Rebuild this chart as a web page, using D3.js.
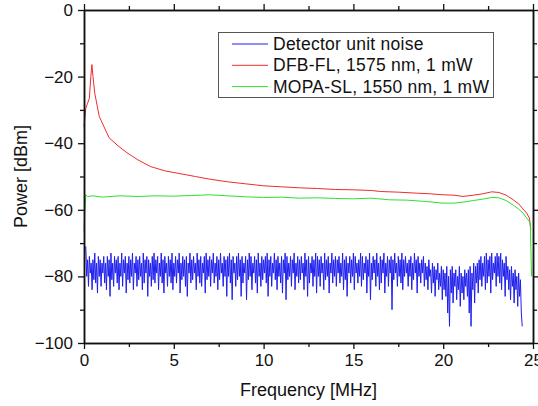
<!DOCTYPE html>
<html>
<head>
<meta charset="utf-8">
<script src="https://cdn.jsdelivr.net/npm/d3@7"></script>
<style>
  body { margin: 0; background: #fff; }
  svg { display: block; font-family: Arial, 'Liberation Sans', sans-serif; }
</style>
</head>
<body>
<div id="chart"></div>
<script>
// detector noise, 0.05 MHz steps from 0.1 to 24.4 MHz
const noiseStart = 0.1
const noiseStep = 0.05
const noise = [
  -71, -80, -75, -83, -74, -79, -76, -84, -75, -81, -73, -82, -76, -85, -74, -80, -75, -83, -76,
  -79, -74, -82, -76, -84, -74, -80, -75, -86, -73, -81, -76, -83, -74, -79, -75, -82, -74, -84, -76,
  -80, -73, -83, -75, -79, -74, -85, -76, -81, -74, -82, -75, -80, -73, -84, -76, -79, -74, -83, -75,
  -81, -74, -80, -76, -84, -73, -82, -75, -79, -74, -86, -75, -80, -76, -83, -74, -81, -73, -82, -75,
  -79, -74, -84, -76, -80, -73, -82, -75, -85, -74, -79, -76, -83, -74, -80, -75, -82, -73, -84, -76,
  -80, -74, -82, -75, -79, -73, -85, -76, -81, -74, -80, -75, -83, -74, -86, -76, -79, -73, -82, -75,
  -81, -74, -79, -76, -84, -73, -80, -75, -82, -74, -83, -76, -79, -74, -85, -73, -81, -75, -80, -74,
  -83, -75, -79, -73, -82, -76, -80, -74, -84, -75, -81, -73, -79, -76, -83, -74, -80, -75, -86, -74,
  -80, -73, -82, -75, -87, -74, -79, -76, -83, -74, -81, -73, -80, -75, -86, -74, -82, -76, -79, -74,
  -87, -75, -81, -73, -80, -74, -84, -76, -79, -74, -82, -75, -85, -73, -80, -76, -83, -74, -81, -75,
  -79, -74, -82, -73, -86, -75, -80, -74, -83, -76, -79, -73, -81, -75, -84, -74, -80, -76, -82, -74,
  -85, -75, -79, -73, -87, -74, -81, -76, -80, -74, -83, -75, -79, -73, -84, -76, -80, -74, -82, -75,
  -81, -74, -79, -76, -84, -73, -80, -75, -86, -74, -82, -76, -79, -74, -83, -75, -80, -73, -85, -74,
  -80, -75, -83, -74, -79, -76, -84, -73, -81, -75, -80, -74, -85, -76, -79, -73, -82, -75, -80, -74,
  -83, -75, -79, -74, -82, -76, -80, -73, -84, -75, -81, -74, -86, -76, -79, -74, -82, -75, -80, -73,
  -84, -74, -79, -76, -82, -75, -80, -73, -83, -74, -81, -76, -79, -74, -85, -75, -80, -73, -87, -76,
  -81, -74, -79, -75, -83, -73, -80, -76, -84, -74, -82, -75, -79, -73, -85, -76, -80, -74, -83, -75,
  -79, -74, -90, -75, -81, -73, -79, -76, -83, -74, -80, -75, -82, -73, -84, -75, -80, -74, -79, -76,
  -83, -75, -80, -74, -84, -76, -81, -73, -79, -75, -85, -74, -80, -76, -82, -75, -79, -74, -83, -76,
  -81, -77, -84, -75, -80, -78, -85, -76, -82, -77, -86, -78, -81, -76, -84, -79, -83, -77, -87, -78,
  -84, -79, -86, -77, -91, -80, -95, -78, -85, -77, -88, -79, -83, -78, -87, -80, -84, -77, -89, -79,
  -85, -80, -87, -78, -83, -79, -86, -78, -91, -77, -95, -79, -84, -76, -88, -77, -82, -76, -85, -75,
  -81, -74, -83, -76, -80, -74, -84, -73, -82, -75, -80, -74, -85, -73, -81, -76, -79, -74, -83, -73,
  -80, -74, -82, -73, -84, -75, -80, -76, -86, -74, -81, -77, -84, -78, -87, -77, -83, -79, -88, -78,
  -84, -80, -89, -79, -86, -81, -91, -95
]

const dfbFreq = [0, 0.1, 0.2, 0.3, 0.38, 0.44, 0.5, 0.6, 0.85, 1.4, 1.9, 2.4, 3, 3.7, 4.5, 5.4, 6.2, 7, 8, 9, 10, 11, 12, 13, 14, 15, 16, 16.5, 17.5, 18.5, 19.3, 20, 20.6, 21.1, 21.7, 22.2, 22.7, 23.1, 23.5, 23.9, 24.2, 24.45, 24.65, 24.8, 24.88]
const dfbPower = [-35, -29.5, -28, -26.5, -20, -16.4, -20, -25, -32, -38.4, -40.8, -42.9, -45, -47, -48.3, -49.2, -50, -50.8, -51.6, -52.2, -52.8, -53.1, -53.4, -53.6, -53.9, -54, -54.2, -54.5, -54.7, -55, -55.2, -55.5, -55.6, -56, -55.6, -55.2, -54.6, -54.8, -55.6, -57, -58.2, -59.8, -61, -62.5, -66]

const mopaFreq = [0, 0.05, 0.1, 0.2, 0.5, 1, 1.5, 2, 3, 4, 5, 6, 7, 8, 9, 10, 11, 12, 13, 14, 15, 16, 17, 18, 19, 20, 20.6, 21.1, 21.7, 22.2, 22.7, 23.1, 23.5, 23.9, 24.2, 24.45, 24.65, 24.8, 24.85, 24.92]
const mopaPower = [-66.5, -60, -55.5, -56, -55.8, -56.2, -56, -55.8, -56, -55.8, -55.9, -55.7, -55.5, -55.8, -56.1, -56.3, -56.2, -56.5, -56.4, -56.6, -56.7, -56.5, -57, -57.1, -57.5, -58, -58, -57.7, -57.2, -56.8, -56.3, -56.4, -57.2, -58.6, -59.8, -61, -62.5, -63.5, -64.5, -80]

const xTicks = [0, 5, 10, 15, 20, 25]
const xMinor = [2.5, 7.5, 12.5, 17.5, 22.5]
const yTicks = [0, -20, -40, -60, -80, -100]
const yMinor = [-10, -30, -50, -70, -90]

const legendNames = ['Detector unit noise', 'DFB-FL, 1575 nm, 1 mW', 'MOPA-SL, 1550 nm, 1 mW']
const colors = ['#1f1fee', '#ee2c2c', '#2ee02e']

const W = 538, H = 406
const margin = { top: 10, right: 5, bottom: 63, left: 84 }
const width = W - margin.left - margin.right
const height = H - margin.top - margin.bottom

const svg = d3.select('#chart').append('svg')
  .attr('width', W).attr('height', H)

const g = svg.append('g')
  .attr('transform', `translate(${margin.left},${margin.top})`)

const x = d3.scaleLinear().domain([0, 25]).range([0, width])
const y = d3.scaleLinear().domain([-100, 0]).range([height, 0])

const line = d3.line().x(d => x(d[0])).y(d => y(d[1]))

const noiseData = noise.map((v, i) => [noiseStart + i * noiseStep, v])
const dfbData = dfbFreq.map((f, i) => [f, dfbPower[i]])
const mopaData = mopaFreq.map((f, i) => [f, mopaPower[i]])

const series = [noiseData, dfbData, mopaData]
series.forEach((d, i) => {
  g.append('path')
    .datum(d)
    .attr('fill', 'none')
    .attr('stroke', colors[i])
    .attr('stroke-width', 1)
    .attr('stroke-linejoin', 'round')
    .attr('d', line)
})

function styleAxis (sel) {
  sel.select('.domain').attr('stroke', '#111').attr('stroke-width', 1.5)
  sel.selectAll('.tick line').attr('stroke', '#111').attr('stroke-width', 1.3)
  sel.selectAll('.tick text').attr('fill', '#111').style('font-size', '17px')
}

// bottom
g.append('g').attr('transform', `translate(0,${height})`)
  .call(d3.axisBottom(x).tickValues(xTicks).tickSize(6).tickPadding(5).tickSizeOuter(0))
  .call(styleAxis)
g.append('g').attr('transform', `translate(0,${height})`)
  .call(d3.axisBottom(x).tickValues(xMinor).tickSize(4).tickFormat('').tickSizeOuter(0))
  .call(styleAxis)
// top
g.append('g')
  .call(d3.axisTop(x).tickValues(xTicks).tickSize(6).tickFormat('').tickSizeOuter(0))
  .call(styleAxis)
g.append('g')
  .call(d3.axisTop(x).tickValues(xMinor).tickSize(4).tickFormat('').tickSizeOuter(0))
  .call(styleAxis)
// left
g.append('g')
  .call(d3.axisLeft(y).tickValues(yTicks).tickSize(6).tickPadding(5).tickSizeOuter(0))
  .call(styleAxis)
g.append('g')
  .call(d3.axisLeft(y).tickValues(yMinor).tickSize(4).tickFormat('').tickSizeOuter(0))
  .call(styleAxis)
// right
g.append('g').attr('transform', `translate(${width},0)`)
  .call(d3.axisRight(y).tickValues(yTicks).tickSize(5).tickFormat('').tickSizeOuter(0))
  .call(styleAxis)
g.append('g').attr('transform', `translate(${width},0)`)
  .call(d3.axisRight(y).tickValues(yMinor).tickSize(4).tickFormat('').tickSizeOuter(0))
  .call(styleAxis)

// axis titles
svg.append('text')
  .attr('x', margin.left + width / 2)
  .attr('y', 396)
  .attr('text-anchor', 'middle')
  .style('font-size', '18px')
  .attr('fill', '#111')
  .text('Frequency [MHz]')

svg.append('text')
  .attr('transform', `translate(27,${margin.top + height / 2}) rotate(-90)`)
  .attr('text-anchor', 'middle')
  .style('font-size', '18px')
  .attr('fill', '#111')
  .text('Power [dBm]')

// legend
const legend = svg.append('g').attr('transform', 'translate(218,32)')
legend.append('rect')
  .attr('x', 0.5).attr('y', 0.5)
  .attr('width', 275).attr('height', 65)
  .attr('fill', '#fff')
  .attr('stroke', '#555')
  .attr('stroke-width', 1)

legendNames.forEach((name, i) => {
  const ly = 12 + i * 21.3
  legend.append('line')
    .attr('x1', 14).attr('x2', 50)
    .attr('y1', ly).attr('y2', ly)
    .attr('stroke', colors[i])
    .attr('stroke-width', 1)
  legend.append('text')
    .attr('x', 55).attr('y', ly + 6)
    .style('font-size', '17.5px')
    .style('letter-spacing', '0.25px')
    .attr('fill', '#111')
    .text(name)
})
</script>
</body>
</html>
